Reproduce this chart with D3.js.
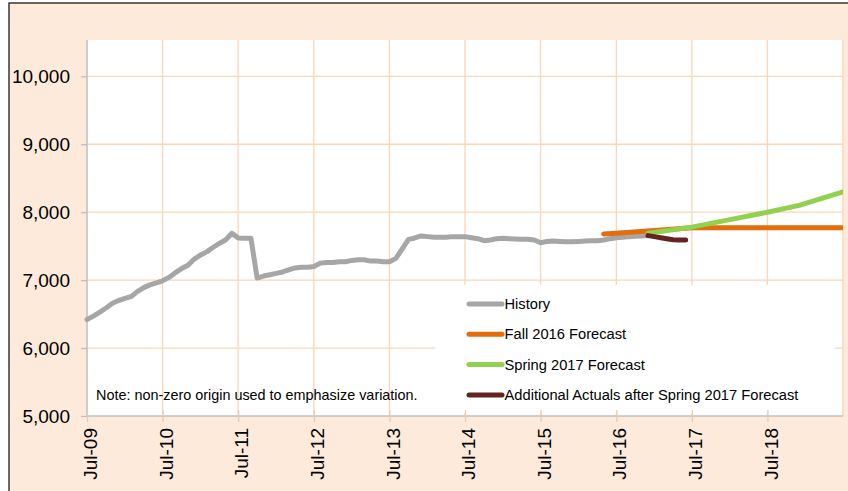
<!DOCTYPE html>
<html><head><meta charset="utf-8">
<script src="https://cdn.jsdelivr.net/npm/d3@7"></script>
<style>
body{margin:0;background:#fff;}
svg{display:block;font-family:"Liberation Sans",Arial,sans-serif;}
</style>
</head><body>
<svg id="c" width="848" height="491"></svg>
<script>
// ---------- data ----------
const historyStart = "2009-07";
const historyValues = [
  6420,6470,6530,6590,6660,6700,6730,6760,6830,6890,6930,6960,   // Jul-09 .. Jun-10
  6990,7040,7110,7170,7220,7310,7370,7420,7480,7540,7590,7690,   // Jul-10 .. Jun-11
  7620,7615,7615,7030,7060,7080,7100,7120,7150,7180,7190,7190,   // Jul-11 .. Jun-12
  7200,7250,7260,7260,7270,7270,7290,7300,7300,7280,7280,7270,   // Jul-12 .. Jun-13
  7270,7320,7460,7600,7620,7650,7640,7630,7630,7630,7640,7640,   // Jul-13 .. Jun-14
  7640,7625,7610,7580,7590,7610,7615,7610,7605,7600,7600,7590,   // Jul-14 .. Jun-15
  7550,7570,7575,7570,7565,7565,7570,7575,7580,7580,7590,7610,   // Jul-15 .. Jun-16
  7625,7630,7640,7645,7650,7655                                  // Jul-16 .. Dec-16
];
const fallDates  = ["2016-05","2016-07","2017-01","2017-07","2018-07","2019-07"];
const fallValues = [7680,7690,7730,7770,7770,7770];
const springDates  = ["2016-12","2017-07","2018-01","2018-07","2018-12","2019-07"];
const springValues = [7690,7780,7890,8000,8100,8300];
const actualDates  = ["2016-12","2017-01","2017-02","2017-03","2017-04","2017-05","2017-06"];
const actualValues = [7655,7640,7625,7610,7595,7590,7590];
const yTickValues = [5000,6000,7000,8000,9000,10000];
const xTickMonths = ["2009-07","2010-07","2011-07","2012-07","2013-07","2014-07","2015-07","2016-07","2017-07","2018-07","2019-07"];
const xTickLabels = ["Jul-09","Jul-10","Jul-11","Jul-12","Jul-13","Jul-14","Jul-15","Jul-16","Jul-17","Jul-18"];
const seriesNames  = ["History","Fall 2016 Forecast","Spring 2017 Forecast","Additional Actuals after Spring 2017 Forecast"];
const seriesColors = ["#A6A6A6","#E46C0A","#92D050","#632523"];
const noteText = "Note: non-zero origin used to emphasize variation.";

// ---------- setup ----------
const parse = d3.timeParse("%Y-%m");
const svg = d3.select("#c");
const plot = {left:87, right:843, top:40, bottom:416};

const x = d3.scaleTime()
  .domain([parse("2009-07"), parse("2019-07")])
  .range([plot.left, plot.right]);
const y = d3.scaleLinear()
  .domain([5000, 10000])
  .range([416, 76.3]);

// background
svg.append("rect").attr("x",9).attr("y",3).attr("width",900).attr("height",600)
  .attr("fill","#FDEADA").attr("stroke","#1a1a1a").attr("stroke-width",1.3);
svg.append("rect").attr("x",plot.left).attr("y",plot.top)
  .attr("width",plot.right-plot.left).attr("height",plot.bottom-plot.top)
  .attr("fill","#ffffff");

const gridColor = "#FBD5B5";
const xTickDates = xTickMonths.map(parse);

// grid
svg.append("g").selectAll("line").data(yTickValues.filter(v => v > 5000)).join("line")
  .attr("x1",plot.left).attr("x2",plot.right)
  .attr("y1",d=>y(d)).attr("y2",d=>y(d))
  .attr("stroke",gridColor).attr("stroke-width",1.3);
svg.append("g").selectAll("line").data(xTickDates.slice(1)).join("line")
  .attr("x1",d=>x(d)).attr("x2",d=>x(d))
  .attr("y1",plot.top).attr("y2",plot.bottom)
  .attr("stroke",gridColor).attr("stroke-width",1.3);

// legend box (covers grid)
const lg = {x:435, y:285, w:400, h:128};
svg.append("rect").attr("x",lg.x).attr("y",lg.y).attr("width",lg.w).attr("height",lg.h)
  .attr("fill","#ffffff");

// y axis
const yAxis = d3.axisLeft(y).tickValues(yTickValues).tickSize(6).tickPadding(11)
  .tickFormat(d3.format(","));
const gy = svg.append("g").attr("transform",`translate(${plot.left},0)`).call(yAxis);
gy.select(".domain").attr("stroke","#BFBFBF").attr("stroke-width",1.5)
  .attr("d",`M0,${plot.top}V${plot.bottom}`);
gy.selectAll(".tick line").attr("stroke","#BFBFBF").attr("stroke-width",1.3);
gy.selectAll(".tick text").attr("font-size","19px").attr("fill","#000")
  .attr("font-family","'Liberation Sans',Arial,sans-serif");

// x axis
const xAxis = d3.axisBottom(x).tickValues(xTickDates.slice(0,10)).tickSize(6)
  .tickFormat((d,i) => xTickLabels[i]);
const gx = svg.append("g").attr("transform",`translate(0,${plot.bottom})`).call(xAxis);
gx.select(".domain").attr("stroke","#BFBFBF").attr("stroke-width",1.5)
  .attr("d",`M${plot.left},0H${plot.right}`);
gx.selectAll(".tick line").attr("stroke","#E3CDB8").attr("stroke-width",1.3)
  .attr("y1",-6).attr("y2",6);
gx.selectAll(".tick text")
  .attr("font-size","19px").attr("fill","#000")
  .attr("font-family","'Liberation Sans',Arial,sans-serif")
  .attr("text-anchor","end")
  .attr("transform","translate(3,12) rotate(-90)")
  .attr("x",0).attr("y",0).attr("dy","0.35em");

// clip
svg.append("clipPath").attr("id","clip").append("rect")
  .attr("x",plot.left-4).attr("y",plot.top).attr("width",plot.right-plot.left+4)
  .attr("height",plot.bottom-plot.top);

const line = d3.line().x(d=>x(d[0])).y(d=>y(d[1])).curve(d3.curveLinear);
const histData = historyValues.map((v,i)=>[d3.timeMonth.offset(parse(historyStart), i), v]);
const series = [
  histData,
  fallDates.map((d,i)=>[parse(d), fallValues[i]]),
  springDates.map((d,i)=>[parse(d), springValues[i]]),
  actualDates.map((d,i)=>[parse(d), actualValues[i]])
];
const gl = svg.append("g").attr("clip-path","url(#clip)");
series.forEach((s,i)=>{
  gl.append("path").attr("d",line(s)).attr("fill","none")
    .attr("stroke",seriesColors[i]).attr("stroke-width",5)
    .attr("stroke-linecap","round").attr("stroke-linejoin","round");
});

// legend
const legendRowY = [304, 334.3, 364.6, 395];
seriesNames.forEach((n,i)=>{
  const ly = legendRowY[i];
  svg.append("line").attr("x1",469).attr("x2",502).attr("y1",ly).attr("y2",ly)
    .attr("stroke",seriesColors[i]).attr("stroke-width",5).attr("stroke-linecap","round");
  svg.append("text").attr("x",504.5).attr("y",ly).attr("dy","0.35em")
    .attr("font-size","14.7px").attr("fill","#000").text(n);
});

// note
svg.append("text").attr("x",96).attr("y",395).attr("dy","0.35em")
  .attr("font-size","14.4px").attr("fill","#000").text(noteText);
</script>
</body></html>
